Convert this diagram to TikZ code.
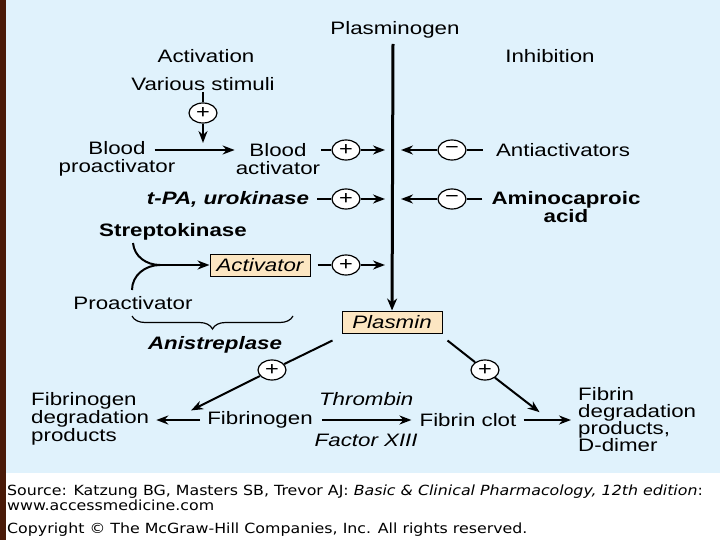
\documentclass[tikz,border=0pt]{standalone}
\usepackage{fontspec}
\setmainfont{Liberation Sans}[FakeStretch=1.24]
\newfontfamily\srcfont{DejaVu Sans}[FakeStretch=1.13]
\usetikzlibrary{positioning}
\usetikzlibrary{calc}
\usetikzlibrary{arrows.meta,shapes.geometric}
\usetikzlibrary{decorations.pathreplacing}

\definecolor{panelblue}{HTML}{E0F2FC}
\definecolor{boxtan}{HTML}{FCE6C2}
\definecolor{stripbrown}{HTML}{4A1A08}

\tikzset{
  txt/.style={font=\fontsize{18}{18}\selectfont, align=center, inner sep=1pt},
  boldtxt/.style={txt, font=\fontsize{18}{18}\selectfont\bfseries},
  bitxt/.style={txt, font=\fontsize{18}{18}\selectfont\bfseries\itshape},
  itxt/.style={txt, font=\fontsize{18}{18}\selectfont\itshape},
  sign/.style={ellipse, draw, fill=white, line width=1.2pt, minimum width=28pt,
    minimum height=20pt, inner sep=0pt, font=\fontsize{19}{19}\selectfont},
  enzbox/.style={draw, fill=boxtan, line width=1pt, minimum width=100pt,
    minimum height=22pt, inner sep=0pt, font=\fontsize{18}{18}\selectfont\itshape},
  ln/.style={line width=2pt},
  arr/.style={line width=2pt, -{Stealth[length=12pt,width=9pt]}},
  srctxt/.style={font=\srcfont\fontsize{14}{14}\selectfont, anchor=west, inner sep=0pt}
}

\begin{document}
\begin{tikzpicture}[x=1pt, y=-1pt]

 %background
 \fill[white] (0,0) rectangle (720,540);
 \fill[panelblue] (6,0) rectangle (720,473);
 \fill[stripbrown] (0,0) rectangle (6,540);
 \useasboundingbox (0,0) rectangle (720,540);

 %headings
 \node[txt] (plasminogen) at (395,30) {Plasminogen};
 \node[txt] (activation) at (206,56) {Activation};
 \node[txt] (inhibition) at (550,56) {Inhibition};

 %main axis
 \coordinate (ptop) at (393,44);
 \node[enzbox] (plasmin) at (392,322) {Plasmin};
 \draw[line width=3pt, -{Stealth[length=12pt,width=10pt]}] (ptop) -- (plasmin);

 %activation side
 \node[txt] (stimuli) at (203,84) {Various stimuli};
 \node[sign] (pstim) at (203,113) {+};
 \node[txt] (bpro) at (117,159) {Blood\\proactivator};
 \node[txt] (bact) at (278,159) {Blood\\activator};
 \node[sign] (p1) at (346,150) {+};
 \node[bitxt] (tpa) at (228,199) {t-PA, urokinase};
 \node[sign] (p2) at (346,199) {+};
 \node[boldtxt] (strepto) at (173,232) {Streptokinase};
 \node[enzbox] (actbox) at (260,265) {Activator};
 \node[sign] (p3) at (346,265) {+};
 \node[txt] (proact) at (133,303) {Proactivator};
 \node[bitxt] (anis) at (215,345) {Anistreplase};

 \draw[ln] (stimuli) -- (pstim);
 \draw[arr, shorten >=7pt] (pstim) -- (pstim |- p1);
 \draw[arr] ([xshift=-22pt]bpro.east |- p1) -- (bact.west |- p1);
 \draw[ln] (bact.east |- p1) -- (p1);
 \draw[arr, shorten >=8pt] (p1) -- (p1 -| ptop);
 \draw[ln, shorten <=7pt] (tpa) -- (p2);
 \draw[arr, shorten >=8pt] (p2) -- (p2 -| ptop);

 %streptokinase + proactivator
 \coordinate (join) at (160,265);
 \draw[ln] (133,243) to[out=-85,in=180] (join);
 \draw[ln] (132,290) to[out=90,in=180] (join);
 \draw[arr] (join) -- (actbox);
 \draw[ln, shorten <=7pt] (actbox) -- (p3);
 \draw[arr, shorten >=8pt] (p3) -- (p3 -| ptop);
 \draw[line width=1.2pt, decorate, decoration={brace, mirror, amplitude=13pt}]
   (132,316) -- (293,316);

 %inhibition side
 \node[sign] (m1) at (452,150) {−};
 \node[txt] (anti) at (563,150) {Antiactivators};
 \node[sign] (m2) at (452,199) {−};
 \node[boldtxt] (amino) at (566,207) {Aminocaproic\\acid};

 \draw[ln, shorten <=12pt] (anti.west) -- (m1);
 \draw[arr, shorten >=8pt] (m1) -- (m1 -| ptop);
 \draw[ln, shorten <=8pt] (amino.west |- m2) -- (m2);
 \draw[arr, shorten >=8pt] (m2) -- (m2 -| ptop);

 %lower part
 \node[txt, anchor=west, align=left] (fdp) at (30,419) {Fibrinogen\\degradation\\products};
 \node[txt] (fgen) at (260,420) {Fibrinogen};
 \node[txt] (fclot) at (468,420) {Fibrin clot};
 \node[txt, anchor=west, align=left, font=\fontsize{18}{17}\selectfont] (fibdp) at (577,420)
   {Fibrin\\degradation\\products,\\D-dimer};
 \node[sign] (p4) at (272,370) {+};
 \node[sign] (p5) at (485,370) {+};

 \draw[ln] ([shift={(-9pt,-7pt)}]plasmin.south west) -- (p4);
 \draw[arr] (p4) -- ([xshift=-15pt]fgen.north west);
 \draw[ln] ([shift={(5pt,-7pt)}]plasmin.south east) -- (p5);
 \draw[arr] (p5) -- ([xshift=22pt]fclot.north east);

 \draw[arr, shorten <=6pt, shorten >=6pt] (fgen) -- (fdp.east |- fgen);
 \draw[arr, shorten <=8pt, shorten >=7pt] (fgen) --
   node[itxt, above=12pt] (thrombin) {Thrombin}
   node[itxt, below=12pt] (factor) {Factor XIII} (fclot);
 \draw[arr, shorten <=6pt, shorten >=6pt] (fclot) -- (fibdp.west |- fclot);

 %source
 \node[srctxt] (src) at (7,492) {Source: Katzung BG, Masters SB, Trevor AJ: \textit{Basic \& Clinical Pharmacology, 12th edition}:};
 \node[srctxt] (web) at (7,505) {www.accessmedicine.com};
 \node[srctxt] (copy) at (7,530) {Copyright © The McGraw-Hill Companies, Inc. All rights reserved.};

\end{tikzpicture}
\end{document}
